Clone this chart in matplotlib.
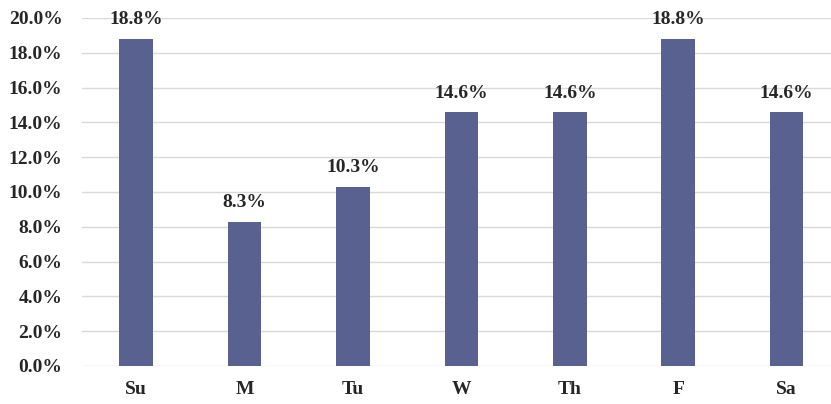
import numpy as np
import matplotlib.pyplot as plt
from matplotlib.ticker import PercentFormatter

days = ["Su", "M", "Tu", "W", "Th", "F", "Sa"]
shares = [18.8, 8.3, 10.3, 14.6, 14.6, 18.8, 14.6]
yticks = np.arange(0, 20.1, 2)

plt.rcParams['font.family'] = ['Liberation Serif', 'DejaVu Serif']

fig = plt.figure(figsize=(8.31, 4.04), dpi=100)
ax = fig.add_axes([82/831, 1 - 366/404, 1 - 82/831, 348/404])

x = np.arange(len(days))
bars = ax.bar(x, shares, width=0.31, color="#58618f", zorder=3)
for b, v in zip(bars, shares):
    ax.text(b.get_x() + b.get_width()/2, v + 0.6, f"{v:.1f}%", ha="center", va="bottom",
            fontsize=14, fontweight="bold", color="#262626")

ax.set_ylim(0, 20)
ax.set_xlim(-0.5, 6.41)
ax.set_yticks(yticks)
ax.yaxis.set_major_formatter(PercentFormatter(decimals=1))
ax.set_xticks(x)
ax.set_xticklabels(days)
ax.grid(axis="y", color="#d9d9d9", linewidth=1, zorder=0)
for s in ax.spines.values():
    s.set_visible(False)
ax.tick_params(length=0, labelsize=14, colors="#262626")
ax.tick_params(axis="x", pad=11)
ax.tick_params(axis="y", pad=14)
for lab in ax.get_xticklabels() + ax.get_yticklabels():
    lab.set_fontweight("bold")

fig.savefig("out.png", dpi=100)
